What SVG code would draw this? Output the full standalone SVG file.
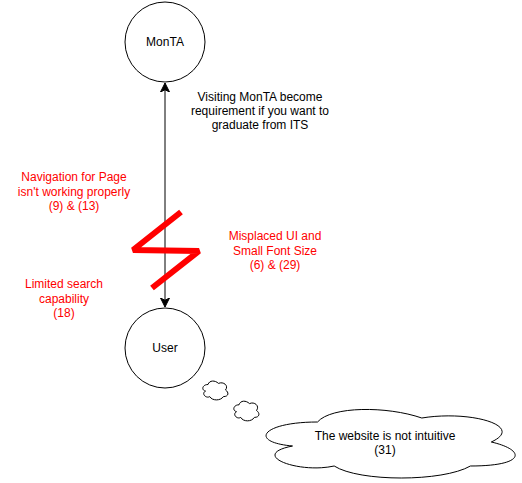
<svg xmlns="http://www.w3.org/2000/svg" width="522" height="483" viewBox="0 0 522 483">
<style>
.n{fill:#fff;stroke:#000;stroke-width:1}
.t{font-family:"Liberation Sans",Arial,sans-serif;font-size:12px;text-anchor:middle;fill:#000}
.r{fill:#ff0000}
.e{stroke:#000;stroke-width:1;fill:none}
</style>
<defs>
<marker id="ah" markerUnits="userSpaceOnUse" markerWidth="10" markerHeight="12" refX="9" refY="4.5" orient="auto-start-reverse" viewBox="0 0 10 9">
<path d="M0,0 L9,4.5 L0,9 L2.25,4.5 Z" fill="#000" stroke="#000" stroke-width="1"/>
</marker>
</defs>
<g id="connectors">
<line class="e" x1="165" y1="83" x2="165" y2="307" marker-start="url(#ah)" marker-end="url(#ah)"/>
</g>
<g id="lightning">
<polyline points="181,212 133,250 199,251 152,288" fill="none" stroke="#ff0000" stroke-width="6" stroke-linejoin="miter" stroke-miterlimit="2"/>
</g>
<g id="monta">
<circle class="n" cx="165" cy="42" r="40"/>
<text class="t" x="165" y="46">MonTA</text>
</g>
<g id="user">
<circle class="n" cx="165" cy="348" r="40"/>
<text class="t" x="165" y="352">User</text>
</g>
<g id="label-visiting">
<text class="t" x="260" y="101">Visiting MonTA become</text>
<text class="t" x="260" y="115">requirement if you want to</text>
<text class="t" x="260" y="129">graduate from ITS</text>
</g>
<g id="label-navigation">
<text class="t r" x="74" y="181">Navigation for Page</text>
<text class="t r" x="74" y="196">isn't working properly</text>
<text class="t r" x="74" y="210">(9) &amp; (13)</text>
</g>
<g id="label-misplaced">
<text class="t r" x="275" y="240">Misplaced UI and</text>
<text class="t r" x="275" y="255">Small Font Size</text>
<text class="t r" x="275" y="269">(6) &amp; (29)</text>
</g>
<g id="label-limited">
<text class="t r" x="64" y="288">Limited search</text>
<text class="t r" x="64" y="303">capability</text>
<text class="t r" x="64" y="317">(18)</text>
</g>
<g id="thought-small-1">
<path class="n" d="M208,384.5 C202.4,384.5 201,390 205.5,391.1 C201,393.5 206,398.8 209.7,396.6 C212.2,401 220.6,401 223.4,396.6 C229,396.6 229,392.2 225.5,390 C229,385.6 223.4,381.2 218.5,383.4 C215,380.1 209.4,380.1 208,384.5 Z"/>
</g>
<g id="thought-small-2">
<path class="n" d="M239,404.8 C233.4,404.8 232,410.5 236.5,411.7 C232,414.2 237,419.7 240.7,417.4 C243.2,422 251.6,422 254.4,417.4 C260,417.4 260,412.8 256.5,410.5 C260,405.9 254.4,401.3 249.5,403.6 C246,400.2 240.4,400.2 239,404.8 Z"/>
</g>
<g id="thought-cloud">
<path class="n" d="M317.5,422 C261.9,422 248,442 292.5,446 C248,454.8 298,474 334.2,466 C359.2,482 442.6,482 470.4,466 C526,466 526,450 491.3,442 C526,426 470.4,410 421.8,418 C387,406 331.4,406 317.5,422 Z"/>
<text class="t" x="385" y="440">The website is not intuitive</text>
<text class="t" x="385" y="454">(31)</text>
</g>
</svg>
